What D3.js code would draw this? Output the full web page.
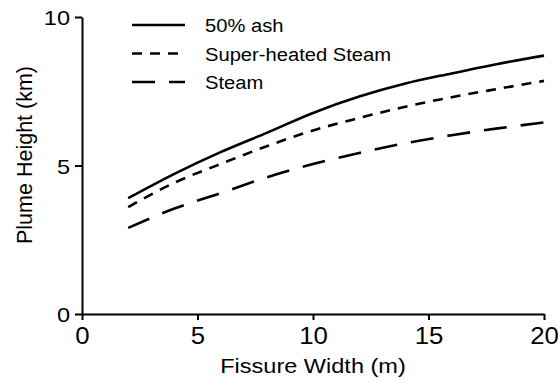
<!DOCTYPE html>
<html>
<head>
<meta charset="utf-8">
<script src="https://cdn.jsdelivr.net/npm/d3@7"></script>
<style>
  body { margin: 0; background: #fff; }
  text { font-family: "Liberation Sans", Arial, sans-serif; fill: #000; }
</style>
</head>
<body>
<script>
// fissure widths (m) where the curves were read
var widths = [2, 4, 6, 8, 10, 12, 14, 16, 18, 20];

// plume heights (km) for each case
var ash50 = [3.9, 4.72, 5.45, 6.1, 6.77, 7.32, 7.76, 8.1, 8.42, 8.7];
var superSteam = [3.6, 4.42, 5.05, 5.65, 6.18, 6.6, 6.98, 7.3, 7.58, 7.85];
var steam = [2.9, 3.55, 4.07, 4.6, 5.05, 5.42, 5.75, 6.02, 6.25, 6.45];

// series names for the legend
var seriesNames = ['50% ash', 'Super-heated Steam', 'Steam'];

// tick values
var xTicks = [0, 5, 10, 15, 20];
var yTicks = [0, 5, 10];

// width and height of the svg
var width = 558,
    height = 385;

var margin = {top: 17, right: 14, bottom: 71, left: 82};

// the picture looks a bit stretched sideways, so horizontal text is widened too
var stretch = 1.12;

var svg = d3.select('body')
  .append('svg')
  .attr('width', width)
  .attr('height', height);

var x = d3.scaleLinear()
  .domain([0, 20])
  .range([margin.left, width - margin.right]);

var y = d3.scaleLinear()
  .domain([0, 10])
  .range([height - margin.bottom, margin.top]);

// dash pattern for each series
var dashes = [null, '10,8', '23,14'];

var series = [ash50, superSteam, steam].map(function(vals, i) {
  return {
    name: seriesNames[i],
    dash: dashes[i],
    points: widths.map(function(w, j) { return [w, vals[j]]; })
  };
});

// widen a horizontal text element
function widen(sel) {
  sel.each(function() {
    var len = this.getComputedTextLength();
    d3.select(this)
      .attr('textLength', len * stretch)
      .attr('lengthAdjust', 'spacingAndGlyphs');
  });
}

// x axis
var xAxis = svg.append('g')
  .attr('transform', 'translate(0,' + y(0) + ')')
  .call(d3.axisBottom(x).tickValues(xTicks).tickSize(6).tickSizeOuter(0).tickPadding(8));

xAxis.selectAll('text')
  .style('font-size', '23px')
  .call(widen);

// y axis
var yAxis = svg.append('g')
  .attr('transform', 'translate(' + x(0) + ',0)')
  .call(d3.axisLeft(y).tickValues(yTicks).tickSize(7).tickSizeOuter(0).tickPadding(5));

yAxis.selectAll('text')
  .style('font-size', '21px')
  .attr('dy', '0.36em')
  .call(widen);

svg.selectAll('.domain, .tick line')
  .attr('stroke', '#000')
  .attr('stroke-width', 2);

// axis titles
svg.append('text')
  .attr('x', (x(0) + x(20)) / 2)
  .attr('y', 373)
  .attr('text-anchor', 'middle')
  .style('font-size', '21px')
  .text('Fissure Width (m)')
  .call(widen);

svg.append('text')
  .attr('transform', 'translate(32,155) rotate(-90)')
  .attr('text-anchor', 'middle')
  .style('font-size', '21.5px')
  .text('Plume Height (km)');

// the curves
var line = d3.line()
  .x(function(d) { return x(d[0]); })
  .y(function(d) { return y(d[1]); })
  .curve(d3.curveMonotoneX);

svg.append('g')
  .selectAll('path')
  .data(series)
  .enter()
  .append('path')
  .attr('d', function(d) { return line(d.points); })
  .attr('fill', 'none')
  .attr('stroke', '#000')
  .attr('stroke-width', 2.6)
  .attr('stroke-dasharray', function(d) { return d.dash; });

// legend
var legend = svg.append('g')
  .selectAll('g')
  .data(series)
  .enter()
  .append('g')
  .attr('transform', function(d, i) { return 'translate(132,' + (25 + i * 28.5) + ')'; });

legend.append('line')
  .attr('x1', 0)
  .attr('x2', 53)
  .attr('stroke', '#000')
  .attr('stroke-width', 2.6)
  .attr('stroke-dasharray', function(d) { return d.dash; });

legend.append('text')
  .attr('x', 73)
  .attr('y', 7)
  .style('font-size', '18px')
  .text(function(d) { return d.name; })
  .call(widen);
</script>
</body>
</html>
